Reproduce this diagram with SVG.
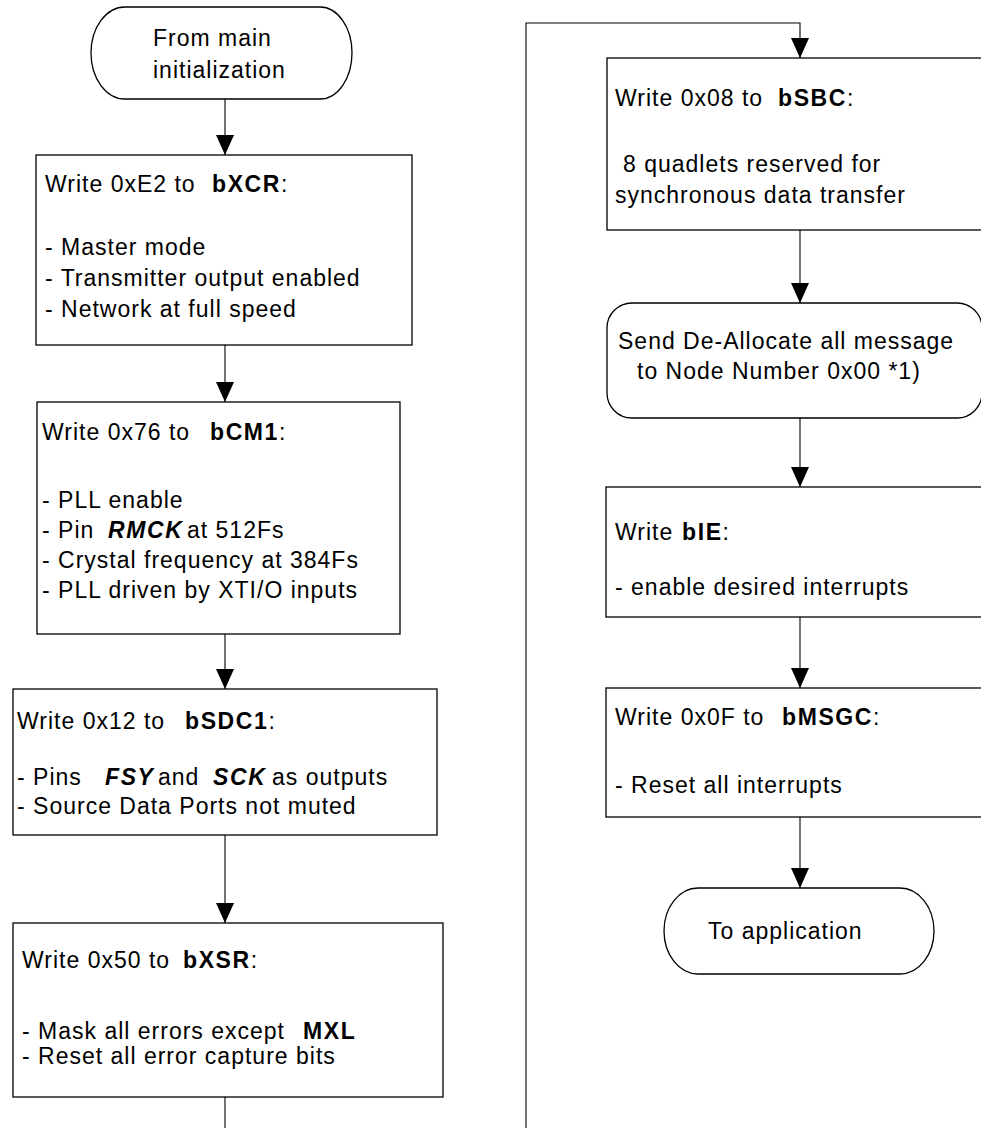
<svg xmlns="http://www.w3.org/2000/svg" width="981" height="1128" viewBox="0 0 981 1128">
<style>
.shape{fill:#fff;stroke:#000;stroke-width:1.3}
.conn{fill:none;stroke:#000;stroke-width:1.1}
text{font-family:"Liberation Sans",Arial,sans-serif;font-size:23px;letter-spacing:1px;fill:#000}
.b{font-weight:bold;letter-spacing:1.6px}
.bi{font-weight:bold;font-style:italic;letter-spacing:1.6px}
</style>
<defs>
<marker id="arr" viewBox="0 0 20 18" refX="20" refY="9" markerWidth="20" markerHeight="18" markerUnits="userSpaceOnUse" orient="auto">
<path d="M0,0 L20,9 L0,18 Z" fill="#000"/>
</marker>
</defs>
<rect width="981" height="1128" fill="#fff"/>
<g id="connectors">
<path class="conn" d="M225,99 V155" marker-end="url(#arr)"/>
<path class="conn" d="M225,345 V402" marker-end="url(#arr)"/>
<path class="conn" d="M225,634 V689" marker-end="url(#arr)"/>
<path class="conn" d="M225,835 V923" marker-end="url(#arr)"/>
<path class="conn" d="M225,1097 V1128"/>
<path class="conn" d="M526,1128 V23 H800 V58" marker-end="url(#arr)"/>
<path class="conn" d="M800,230 V303" marker-end="url(#arr)"/>
<path class="conn" d="M800,418 V487" marker-end="url(#arr)"/>
<path class="conn" d="M800,617 V688" marker-end="url(#arr)"/>
<path class="conn" d="M800,817 V888" marker-end="url(#arr)"/>
</g>
<g id="start">
<path class="shape" d="M125,7 H320 A32,46 0 0 1 320,99 H125 A34,46 0 0 1 125,7 Z"/>
<text x="153" y="46">From main</text>
<text x="153" y="78">initialization</text>
</g>
<g id="xcr">
<rect class="shape" x="36" y="155" width="376" height="190"/>
<text x="45" y="192">Write 0xE2 to<tspan x="212" class="b">bXCR</tspan>:</text>
<text x="45" y="255">- Master mode</text>
<text x="45" y="286">- Transmitter output enabled</text>
<text x="45" y="317">- Network at full speed</text>
</g>
<g id="cm1">
<rect class="shape" x="37" y="402" width="363" height="232"/>
<text x="42" y="440">Write 0x76 to<tspan x="210" class="b">bCM1</tspan>:</text>
<text x="42" y="508">- PLL enable</text>
<text x="42" y="538">- Pin<tspan x="108" class="bi">RMCK</tspan><tspan x="187">at 512Fs</tspan></text>
<text x="42" y="568">- Crystal frequency at 384Fs</text>
<text x="42" y="598">- PLL driven by XTI/O inputs</text>
</g>
<g id="sdc1">
<rect class="shape" x="13" y="689" width="424" height="146"/>
<text x="17" y="729">Write 0x12 to<tspan x="185" class="b">bSDC1</tspan>:</text>
<text x="17" y="785">- Pins<tspan x="105" class="bi">FSY</tspan><tspan x="158">and</tspan><tspan x="213" class="bi">SCK</tspan><tspan x="272">as outputs</tspan></text>
<text x="17" y="814">- Source Data Ports not muted</text>
</g>
<g id="xsr">
<rect class="shape" x="13" y="923" width="430" height="174"/>
<text x="22" y="968">Write 0x50 to<tspan x="183" class="b">bXSR</tspan>:</text>
<text x="22" y="1039">- Mask all errors except<tspan x="303" class="b">MXL</tspan></text>
<text x="22" y="1064">- Reset all error capture bits</text>
</g>
<g id="sbc">
<rect class="shape" x="607" y="58" width="390" height="172"/>
<text x="615" y="106">Write 0x08 to<tspan x="778" class="b">bSBC</tspan>:</text>
<text x="623" y="172">8 quadlets reserved for</text>
<text x="615" y="203">synchronous data transfer</text>
</g>
<g id="dealloc">
<rect class="shape" x="607" y="303" width="375" height="115" rx="25" ry="25"/>
<text x="618" y="349">Send De-Allocate all message</text>
<text x="637" y="379">to Node Number 0x00 *1)</text>
</g>
<g id="ie">
<rect class="shape" x="606" y="487" width="390" height="130"/>
<text x="615" y="540">Write<tspan x="682" class="b">bIE</tspan>:</text>
<text x="615" y="595">- enable desired interrupts</text>
</g>
<g id="msgc">
<rect class="shape" x="606" y="688" width="390" height="129"/>
<text x="615" y="725">Write 0x0F to<tspan x="782" class="b">bMSGC</tspan>:</text>
<text x="615" y="793">- Reset all interrupts</text>
</g>
<g id="end">
<path class="shape" d="M698,888 H900 A34,43 0 0 1 900,974 H698 A34,43 0 0 1 698,888 Z"/>
<text x="708" y="939">To application</text>
</g>
</svg>
